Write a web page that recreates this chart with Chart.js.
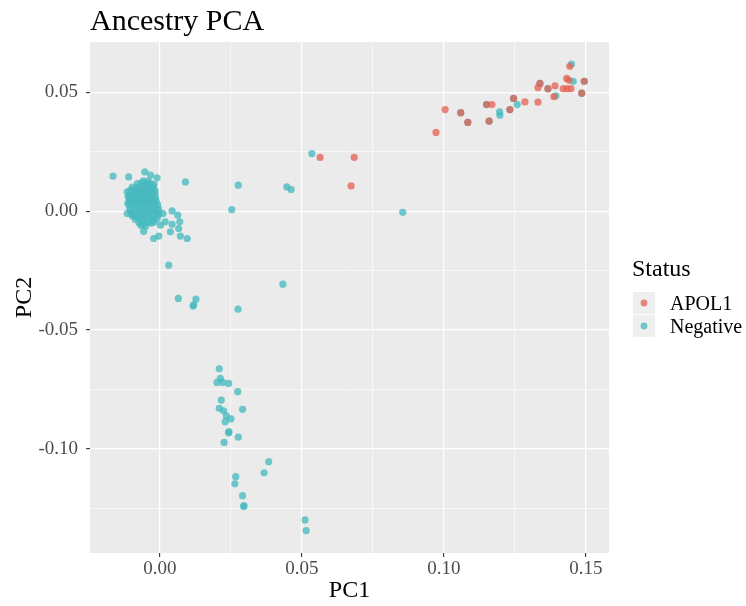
<!DOCTYPE html>
<html>
<head>
<meta charset="utf-8">
<title>Ancestry PCA</title>
<script src="https://cdn.jsdelivr.net/npm/chart.js@4.4.1/dist/chart.umd.min.js"></script>
<style>
  html, body { margin: 0; padding: 0; background: #ffffff; }
  canvas { display: block; }
</style>
</head>
<body>
<canvas id="c" width="746" height="606"></canvas>
<script>
// ---- Data: principal components per sample, grouped by status ----
const statusLabels = ['APOL1', 'Negative'];

const apol1PC1 = [0.0972, 0.1004, 0.1059, 0.1084, 0.1150, 0.1169, 0.1159, 0.1232, 0.1245,
  0.1285, 0.1331, 0.1331, 0.1338, 0.1366, 0.1391, 0.1387, 0.1420, 0.1433, 0.1447, 0.1432,
  0.1440, 0.1443, 0.1485, 0.1494, 0.0564, 0.0684, 0.0673];
const apol1PC2 = [0.0331, 0.0427, 0.0414, 0.0373, 0.0448, 0.0448, 0.0378, 0.0427, 0.0474,
  0.0459, 0.0458, 0.0519, 0.0537, 0.0515, 0.0527, 0.0481, 0.0515, 0.0515, 0.0515, 0.0558,
  0.0550, 0.0609, 0.0496, 0.0546, 0.0226, 0.0226, 0.0106];

// Negative samples in the dense cluster around the origin
const negCorePC1 = [
  -0.0079, -0.0064, -0.0049, -0.0034, -0.0021,
  -0.0097, -0.0083, -0.0068, -0.0053, -0.0038, -0.0023,
  -0.0104, -0.0090, -0.0075, -0.0060, -0.0045, -0.0030, -0.0017,
  -0.0107, -0.0093, -0.0078, -0.0063, -0.0048, -0.0033, -0.0017,
  -0.0108, -0.0094, -0.0079, -0.0064, -0.0049, -0.0034, -0.0015,
  -0.0107, -0.0092, -0.0077, -0.0062, -0.0047, -0.0032, -0.0013,
  -0.0108, -0.0093, -0.0078, -0.0063, -0.0048, -0.0033, -0.0018, -0.0008,
  -0.0106, -0.0091, -0.0076, -0.0061, -0.0046, -0.0031, -0.0016, -0.0005,
  -0.0103, -0.0088, -0.0073, -0.0058, -0.0043, -0.0028, -0.0013, -0.0003,
  -0.0097, -0.0082, -0.0067, -0.0052, -0.0037, -0.0022, -0.0006,
  -0.0087, -0.0072, -0.0057, -0.0042, -0.0027, -0.0010,
  -0.0074, -0.0059, -0.0044, -0.0030, -0.0020,
  -0.0112, -0.0113, -0.0100, -0.0058, -0.0041, -0.0086, -0.0070, -0.0055, -0.0040,
  -0.0025, -0.0100, -0.0085, -0.0070, -0.0055, -0.0040, -0.0026, -0.0066, -0.0050];
const negCorePC2 = [
  0.0116, 0.0119, 0.0114, 0.0117, 0.0113,
  0.0101, 0.0098, 0.0103, 0.0100, 0.0097, 0.0102,
  0.0087, 0.0090, 0.0085, 0.0088, 0.0084, 0.0089, 0.0086,
  0.0071, 0.0068, 0.0073, 0.0070, 0.0074, 0.0069, 0.0072,
  0.0056, 0.0059, 0.0054, 0.0057, 0.0053, 0.0058, 0.0055,
  0.0041, 0.0038, 0.0043, 0.0040, 0.0044, 0.0039, 0.0042,
  0.0026, 0.0029, 0.0024, 0.0027, 0.0023, 0.0028, 0.0025, 0.0027,
  0.0011, 0.0008, 0.0013, 0.0010, 0.0014, 0.0009, 0.0012, 0.0010,
  -0.0004, -0.0001, -0.0006, -0.0003, -0.0007, -0.0002, -0.0005, -0.0004,
  -0.0019, -0.0022, -0.0017, -0.0020, -0.0016, -0.0021, -0.0018,
  -0.0034, -0.0031, -0.0036, -0.0033, -0.0037, -0.0032,
  -0.0049, -0.0052, -0.0047, -0.0050, -0.0046,
  0.0062, 0.0033, -0.0012, 0.0127, 0.0125, 0.0078, 0.0080, 0.0079, 0.0077,
  0.0078, 0.0048, 0.0047, 0.0049, 0.0046, 0.0048, 0.0047, -0.0060, -0.0062];

// Remaining negative samples
const negOtherPC1 = [
  -0.0165, -0.0110, -0.0053, -0.0033, -0.0010, 0.0090, -0.0115, -0.0115, -0.0057,
  0.0043, 0.0063, 0.0011, 0.0002, 0.0043, 0.0070, 0.0037, 0.0066, -0.0022, -0.0004,
  0.0072, 0.0096, 0.0019,
  0.0031, 0.0065, 0.0127, 0.0117, 0.0119, 0.0275, 0.0433,
  0.0276, 0.0253, 0.0535, 0.0447, 0.0462, 0.0855,
  0.0209, 0.0213, 0.0201, 0.0221, 0.0242, 0.0274, 0.0216, 0.0209, 0.0224, 0.0291,
  0.0234, 0.0250, 0.0230, 0.0242, 0.0243, 0.0276, 0.0226, 0.0383, 0.0367, 0.0267,
  0.0264, 0.0291, 0.0295, 0.0296, 0.0511, 0.0515,
  0.1196, 0.1197, 0.1258, 0.1449, 0.1455, 0.1394,
  0.1059, 0.1084, 0.1159, 0.1232, 0.1245, 0.1338, 0.1366, 0.1485, 0.1494, 0.1150];
const negOtherPC2 = [
  0.0147, 0.0144, 0.0165, 0.0151, 0.0140, 0.0123, 0.0081, -0.0010, -0.0085,
  0.0001, -0.0017, -0.0010, -0.0059, -0.0055, -0.0045, -0.0087, -0.0073, -0.0115, -0.0105,
  -0.0105, -0.0115, -0.0045,
  -0.0227, -0.0367, -0.0370, -0.0399, -0.0394, -0.0412, -0.0307,
  0.0109, 0.0006, 0.0242, 0.0102, 0.0091, -0.0005,
  -0.0663, -0.0703, -0.0720, -0.0720, -0.0724, -0.0759, -0.0794, -0.0829, -0.0839, -0.0833,
  -0.0861, -0.0873, -0.0885, -0.0932, -0.0927, -0.0950, -0.0972, -0.1053, -0.1100, -0.1116,
  -0.1146, -0.1196, -0.1242, -0.1238, -0.1298, -0.1343,
  0.0417, 0.0403, 0.0448, 0.0618, 0.0546, 0.0485,
  0.0414, 0.0373, 0.0378, 0.0427, 0.0474, 0.0537, 0.0515, 0.0496, 0.0546, 0.0448];

// Axis ticks (major every 0.05, minor gridlines halfway between)
const xTickLabels = ['0.00', '0.05', '0.10', '0.15'];
const yTickLabels = ['-0.10', '-0.05', '0.00', '0.05'];
const xGridValues = [0, 0.025, 0.05, 0.075, 0.1, 0.125, 0.15];
const yGridValues = [-0.125, -0.1, -0.075, -0.05, -0.025, 0, 0.025, 0.05];

const apol1Color = 'rgba(228,95,82,0.75)';
const negColor = 'rgba(70,186,191,0.78)';
const serif = '"Liberation Serif", "DejaVu Serif", serif';

function toPoints(xs, ys) {
  return xs.map((x, i) => ({ x: x, y: ys[i] }));
}
const apol1Points = toPoints(apol1PC1, apol1PC2);
const negativePoints = toPoints(negCorePC1, negCorePC2).concat(toPoints(negOtherPC1, negOtherPC2));

function isMajor(v) {
  const r = v / 0.05;
  return Math.abs(r - Math.round(r)) < 1e-6;
}

// Grey panel, titles and a ggplot-style legend
const decorations = {
  id: 'decorations',
  beforeDraw(chart) {
    const { ctx, chartArea: a } = chart;
    ctx.save();
    ctx.fillStyle = '#ffffff';
    ctx.fillRect(0, 0, chart.width, chart.height);
    ctx.fillStyle = '#ebebeb';
    ctx.fillRect(a.left, a.top, a.right - a.left, a.bottom - a.top);
    ctx.restore();
  },
  afterDraw(chart) {
    const { ctx, chartArea: a } = chart;
    ctx.save();
    ctx.fillStyle = '#000000';
    // title
    ctx.font = '30px ' + serif;
    ctx.textAlign = 'left';
    ctx.textBaseline = 'alphabetic';
    ctx.fillText('Ancestry PCA', a.left, 30);
    // axis titles
    ctx.font = '24px ' + serif;
    ctx.textAlign = 'center';
    ctx.textBaseline = 'middle';
    ctx.fillText('PC1', (a.left + a.right) / 2, 591);
    ctx.save();
    ctx.translate(25, (a.top + a.bottom) / 2);
    ctx.rotate(-Math.PI / 2);
    ctx.fillText('PC2', 0, 0);
    ctx.restore();
    // legend
    ctx.textAlign = 'left';
    ctx.textBaseline = 'alphabetic';
    ctx.font = '24px ' + serif;
    ctx.fillText('Status', 632, 276);
    const keyColors = [apol1Color, negColor];
    ctx.font = '20px ' + serif;
    statusLabels.forEach((lab, i) => {
      const top = 292 + i * 23;
      ctx.fillStyle = '#efefef';
      ctx.fillRect(633, top, 22, 22);
      ctx.fillStyle = keyColors[i];
      ctx.beginPath();
      ctx.arc(644, top + 11, 3.4, 0, Math.PI * 2);
      ctx.fill();
      ctx.fillStyle = '#000000';
      ctx.textBaseline = 'middle';
      ctx.fillText(lab, 670, top + 13);
    });
    ctx.restore();
  }
};

new Chart(document.getElementById('c'), {
  type: 'scatter',
  data: {
    datasets: [
      { label: statusLabels[0], data: apol1Points, backgroundColor: apol1Color,
        borderWidth: 0, pointRadius: 3.6, pointHoverRadius: 3.6 },
      { label: statusLabels[1], data: negativePoints, backgroundColor: negColor,
        borderWidth: 0, pointRadius: 3.6, pointHoverRadius: 3.6 }
    ]
  },
  options: {
    responsive: false,
    animation: false,
    devicePixelRatio: 1,
    events: [],
    layout: { padding: { top: 42, right: 137, left: 0, bottom: 0 } },
    plugins: { legend: { display: false }, tooltip: { enabled: false }, title: { display: false } },
    scales: {
      x: {
        type: 'linear',
        min: -0.0246,
        max: 0.1581,
        afterBuildTicks: s => { s.ticks = xGridValues.map(v => ({ value: v })); },
        afterFit: s => { s.height = 53; },
        border: { display: false },
        grid: {
          color: '#ffffff',
          lineWidth: c => isMajor(c.tick.value) ? 1.2 : 0.6,
          tickColor: c => isMajor(c.tick.value) ? '#333333' : 'rgba(0,0,0,0)',
          tickWidth: c => isMajor(c.tick.value) ? 1.1 : 0,
          tickLength: 4
        },
        ticks: {
          autoSkip: false,
          maxRotation: 0,
          padding: 1,
          color: '#4d4d4d',
          font: { family: serif, size: 19 },
          callback: v => isMajor(v) ? xTickLabels[Math.round(v / 0.05)] : ''
        }
      },
      y: {
        type: 'linear',
        min: -0.1437,
        max: 0.0711,
        afterBuildTicks: s => { s.ticks = yGridValues.map(v => ({ value: v })); },
        afterFit: s => { s.width = 90; },
        border: { display: false },
        grid: {
          color: '#ffffff',
          lineWidth: c => isMajor(c.tick.value) ? 1.2 : 0.6,
          tickColor: c => isMajor(c.tick.value) ? '#333333' : 'rgba(0,0,0,0)',
          tickWidth: c => isMajor(c.tick.value) ? 1.1 : 0,
          tickLength: 4
        },
        ticks: {
          autoSkip: false,
          padding: 8,
          color: '#4d4d4d',
          font: { family: serif, size: 19 },
          callback: v => isMajor(v) ? yTickLabels[Math.round(v / 0.05) + 2] : ''
        }
      }
    }
  },
  plugins: [decorations]
});
</script>
</body>
</html>
